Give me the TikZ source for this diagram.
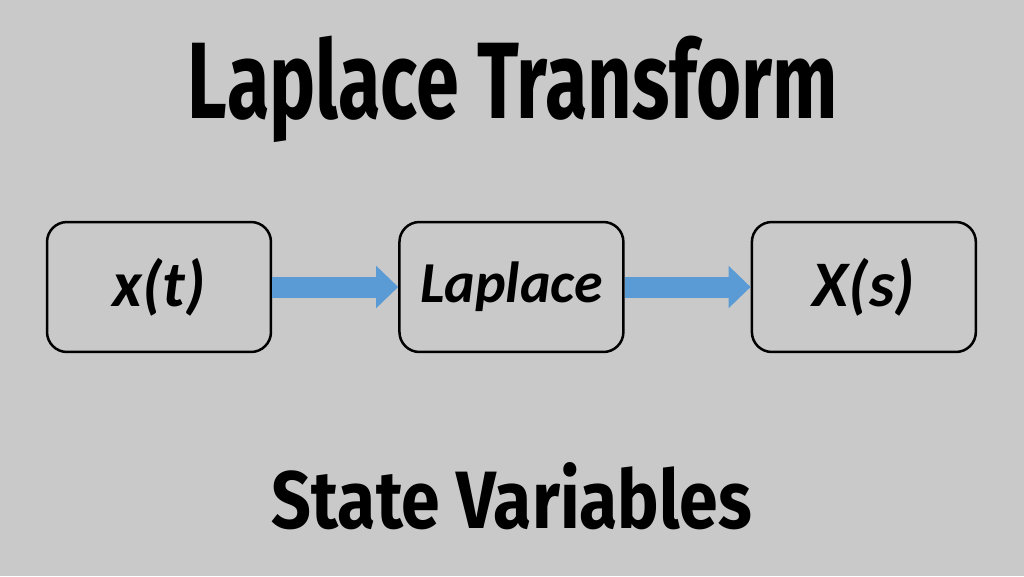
\documentclass[tikz,border=0pt]{standalone}
\usepackage{fontspec}
\setmainfont{Carlito}
\newfontfamily\headfont{Fira Sans}
\usetikzlibrary{positioning, arrows.meta}
\definecolor{bggray}{RGB}{201,201,201}
\definecolor{arrowblue}{RGB}{91,155,213}

\begin{document}
\begin{tikzpicture}[x=0.02cm, y=0.02cm,
    block/.style={draw, line width=0.05cm, rounded corners=0.4cm, fill=bggray,
        minimum width=4.48cm, minimum height=2.6cm, inner sep=0pt,
        font=\fontsize{37}{42}\selectfont\bfseries\itshape},
    flow/.style={arrowblue, line width=0.42cm, -{Triangle[length=0.44cm, width=0.82cm]}}]
    \fill[bggray] (0,0) rectangle (1024,576);
    \node[anchor=base] (title) at (513,458)
        {\resizebox{13cm}{1.65cm}{\headfont\bfseries Laplace Transform}};
    \node[block] (xt) at (159,289) {x(t)};
    \node[block, right=2.52cm of xt] (lap) {\fontsize{33}{38}\selectfont Laplace};
    \node[block, right=2.52cm of lap] (Xs) {X(s)};
    \draw[flow] (xt) -- (lap);
    \draw[flow] (lap) -- (Xs);
    \node[anchor=base] (sub) at (512,48)
        {\resizebox{9.6cm}{1.32cm}{\headfont\bfseries State Variables}};
\end{tikzpicture}
\end{document}
